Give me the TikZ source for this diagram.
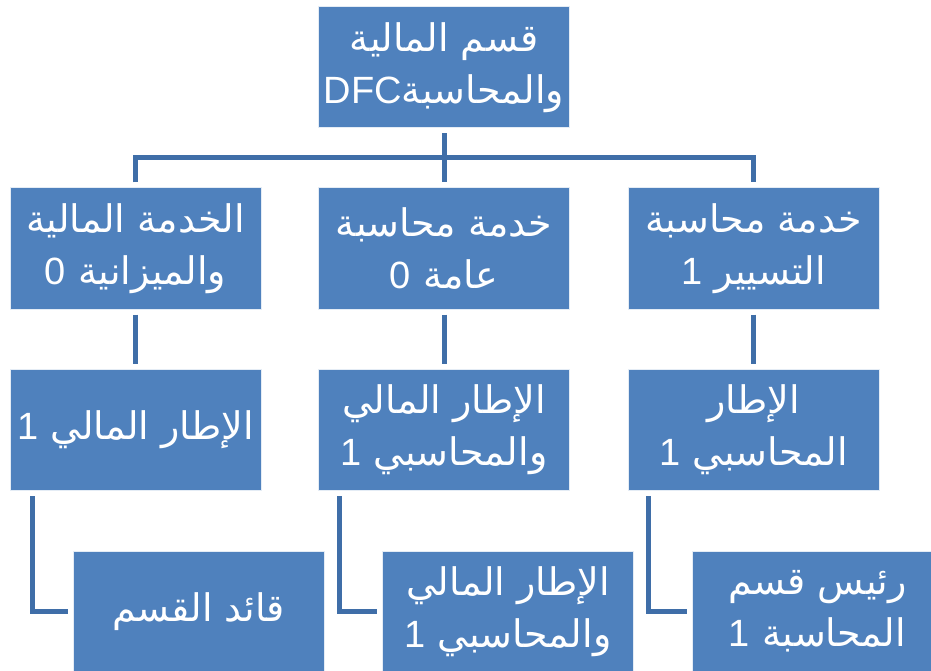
\documentclass[tikz,border=0pt]{standalone}
\usepackage{fontspec}
\setmainfont{Liberation Sans}
\newfontfamily\arabicfont[Script=Arabic]{DejaVu Sans}
\TeXXeTstate=1
\newcommand{\arln}[1]{{\arabicfont\beginR #1\endR}}
\newcommand{\latn}[1]{\beginL{\normalfont #1}\endL}
\definecolor{boxfill}{HTML}{4F81BD}
\definecolor{boxedge}{HTML}{E4ECF5}
\definecolor{linecol}{HTML}{3F6EA8}
\tikzset{
  orgbox/.style={rectangle, fill=boxfill, draw=boxedge, line width=1pt,
    minimum width=251pt, minimum height=121pt, inner sep=2pt, align=center,
    text=white, font=\fontsize{38}{52}\selectfont},
  conn/.style={draw=linecol, line width=5pt, shorten <=5pt, shorten >=5pt}
}
\begin{document}
\begin{tikzpicture}[x=1pt,y=-1pt]
\useasboundingbox (0,0) rectangle (931,671);
\clip (0,0) rectangle (931,671);
\node[orgbox] (top) at (444,67.5) {\arln{قسم المالية}\\\arln{والمحاسبة\latn{DFC}}};
\node[orgbox] (a1) at (135.5,248.5) {\arln{الخدمة المالية}\\\arln{والميزانية \latn{0}}};
\node[orgbox] (a2) at (444,248.5) {\arln{خدمة محاسبة}\\\arln{عامة \latn{0}}};
\node[orgbox] (a3) at (753.5,248.5) {\arln{خدمة محاسبة}\\\arln{التسيير \latn{1}}};
\node[orgbox] (b1) at (135.5,430) {\arln{الإطار المالي \latn{1}}};
\node[orgbox] (b2) at (444,430) {\arln{الإطار المالي}\\\arln{والمحاسبي \latn{1}}};
\node[orgbox] (b3) at (753.5,430) {\arln{الإطار}\\\arln{المحاسبي \latn{1}}};
\node[orgbox] (c1) at (198.5,611.5) {\arln{قائد القسم}};
\node[orgbox] (c2) at (508,611.5) {\arln{الإطار المالي}\\\arln{والمحاسبي \latn{1}}};
\node[orgbox] (c3) at (817.5,611.5) {\arln{رئيس قسم}\\\arln{المحاسبة \latn{1}}};
\coordinate (bus) at (444,158);
\draw[conn] (top.south) -- (a2.north);
\draw[conn] (a1.north) -- (a1.north |- bus) -- (a3.north |- bus) -- (a3.north);
\draw[conn] (a1.south) -- (b1.north);
\draw[conn] (a2.south) -- (b2.north);
\draw[conn] (a3.south) -- (b3.north);
\draw[conn] ([xshift=23pt]b1.south west) -- ([xshift=23pt]b1.south west |- c1.west) -- (c1.west);
\draw[conn] ([xshift=21pt]b2.south west) -- ([xshift=21pt]b2.south west |- c2.west) -- (c2.west);
\draw[conn] ([xshift=21pt]b3.south west) -- ([xshift=21pt]b3.south west |- c3.west) -- (c3.west);
\end{tikzpicture}
\end{document}
